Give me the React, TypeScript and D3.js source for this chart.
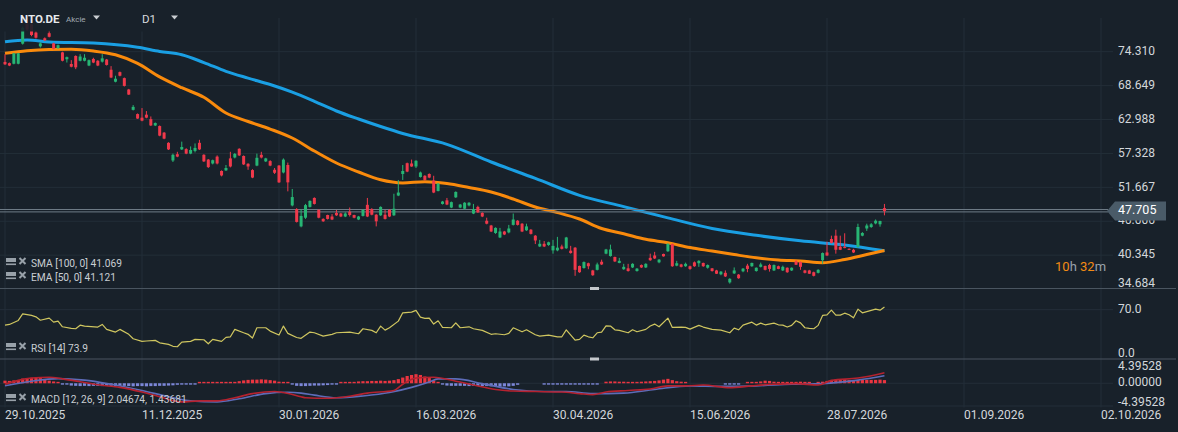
import React from "react";
import * as d3 from "d3";

// ---- data (NTO.DE, D1) ----
const opens = [
  72.6, 72.4, 72.3, 72.3, 75.65, 79.0, 78.9, 77.5, 75.2, 76.55,
  77.4, 75.7, 74.9, 74.2, 73.05, 72.26, 73.6, 72.8, 72.8, 72.0,
  73.1, 72.8, 72.65, 73.0, 71.3, 69.3, 70.9, 69.9, 68.0, 64.6,
  63.9, 63.3, 63.8, 63.05, 62.0, 61.9, 60.8, 59.1, 56.15, 57.2,
  58.0, 58.05, 57.3, 57.75, 59.1, 57.1, 56.3, 55.65, 56.8, 54.4,
  54.5, 56.5, 56.65, 58.1, 56.9, 55.6, 54.55, 55.3, 57.1, 56.0,
  56.05, 54.6, 55.3, 54.15, 55.4, 48.65, 48.05, 45.15, 46.6, 48.4,
  49.9, 47.9, 46.4, 47.05, 46.8, 47.4, 47.3, 46.8, 47.6, 47.05,
  46.3, 46.9, 48.75, 48.05, 47.1, 47.0, 47.1, 47.9, 47.0, 50.3,
  53.9, 55.7, 55.65, 55.15, 53.4, 53.6, 53.9, 52.8, 51.05, 48.9,
  49.5, 48.3, 50.0, 48.3, 48.1, 48.65, 47.3, 48.4, 47.4, 46.1,
  45.3, 44.05, 43.3, 44.3, 44.15, 45.4, 46.1, 45.6, 44.5, 44.6,
  43.6, 41.8, 42.25, 42.05, 41.15, 41.15, 41.8, 41.5, 41.1, 41.6,
  38.55, 38.2, 39.0, 37.8, 37.9, 39.25, 40.6, 40.2, 40.05, 39.05,
  38.0, 38.15, 38.3, 37.7, 38.7, 38.3, 39.9, 40.3, 39.15, 40.55,
  41.0, 42.2, 38.6, 38.8, 38.5, 38.5, 39.15, 39.0, 39.05, 38.25,
  38.15, 37.8, 37.15, 37.4, 35.8, 37.3, 37.1, 37.65, 38.6, 38.5,
  37.7, 38.4, 38.55, 38.7, 37.8, 38.5, 37.8, 38.25, 37.8, 39.3,
  39.2, 37.8, 37.8, 37.5, 37.4, 39.5, 40.8, 43.05, 43.6, 41.75,
  41.7, 41.4, 41.25, 41.7, 43.6, 44.8, 45.05, 45.65, 45.5, 48.2,
];
const highs = [
  73.9, 72.5, 74.1, 74.1, 78.5, 79.5, 79.1, 77.7, 75.9, 76.7,
  77.9, 75.8, 75.5, 74.3, 73.5, 72.9, 73.7, 73.9, 73.9, 73.0,
  73.3, 72.9, 73.9, 73.1, 71.9, 70.3, 71.0, 70.0, 68.1, 65.4,
  64.0, 64.9, 64.4, 63.5, 62.5, 62.0, 60.9, 59.2, 57.3, 57.6,
  59.3, 58.2, 58.5, 59.0, 59.6, 57.2, 56.4, 56.3, 57.0, 54.5,
  55.4, 57.6, 57.4, 58.2, 57.0, 55.7, 54.7, 57.3, 57.6, 56.6,
  56.2, 54.9, 55.4, 56.5, 55.8, 51.4, 48.2, 48.0, 48.9, 49.5,
  50.0, 48.0, 46.5, 47.1, 47.2, 47.9, 47.4, 47.5, 48.3, 47.1,
  46.9, 48.0, 49.9, 48.2, 47.2, 48.5, 47.9, 48.0, 50.6, 52.9,
  55.4, 55.8, 56.3, 56.2, 54.3, 53.7, 54.0, 53.6, 52.4, 49.4,
  49.9, 49.3, 51.0, 48.9, 49.2, 49.2, 48.9, 48.6, 47.5, 46.6,
  45.4, 45.0, 44.9, 44.4, 45.4, 47.3, 46.2, 45.7, 45.6, 44.7,
  43.7, 42.9, 42.7, 42.6, 42.9, 43.4, 42.1, 43.4, 41.9, 41.7,
  38.6, 39.3, 39.1, 37.9, 39.1, 39.6, 41.4, 42.1, 40.1, 39.9,
  38.9, 38.9, 39.0, 38.2, 38.8, 39.0, 40.6, 40.9, 39.7, 40.6,
  42.3, 42.3, 39.4, 38.9, 39.1, 38.6, 39.3, 39.5, 39.1, 38.8,
  38.2, 37.9, 37.7, 37.8, 36.5, 38.3, 37.2, 38.2, 38.9, 39.1,
  38.3, 39.1, 38.6, 38.9, 38.8, 38.6, 38.6, 38.3, 38.3, 39.5,
  39.3, 37.9, 37.9, 37.6, 38.0, 40.8, 42.6, 43.6, 44.6, 43.6,
  44.0, 41.5, 41.4, 45.6, 44.2, 45.6, 45.7, 46.3, 46.1, 48.9,
];
const lows = [
  72.1, 71.9, 72.2, 72.2, 75.5, 77.8, 76.9, 76.5, 75.0, 76.1,
  76.7, 74.7, 74.8, 72.7, 72.5, 71.7, 71.4, 72.7, 72.7, 71.9,
  72.4, 71.9, 72.5, 72.0, 69.9, 69.2, 70.2, 68.5, 67.1, 64.5,
  63.1, 62.7, 63.2, 61.9, 61.9, 60.2, 59.7, 57.9, 55.9, 56.7,
  57.9, 57.2, 57.2, 57.5, 57.9, 55.9, 54.9, 55.5, 55.5, 53.5,
  54.4, 55.0, 56.5, 56.9, 55.4, 54.6, 53.2, 55.2, 56.5, 55.9,
  55.2, 53.9, 52.4, 54.0, 51.0, 48.5, 45.8, 45.0, 46.4, 48.3,
  48.8, 46.5, 45.9, 46.3, 46.2, 46.9, 46.7, 46.7, 46.8, 46.5,
  46.2, 46.8, 46.7, 47.0, 45.15, 46.9, 46.3, 46.7, 46.9, 50.2,
  52.9, 54.2, 55.1, 54.9, 53.3, 52.8, 53.2, 50.7, 51.0, 48.8,
  48.7, 48.2, 49.9, 48.2, 48.0, 48.5, 47.2, 47.4, 46.7, 45.5,
  44.2, 43.9, 43.2, 43.7, 44.0, 45.3, 45.3, 44.2, 44.4, 43.8,
  42.2, 41.7, 41.7, 41.9, 40.6, 41.0, 41.3, 41.4, 40.6, 36.9,
  37.4, 38.1, 38.0, 36.9, 37.8, 38.7, 40.5, 40.1, 39.2, 39.0,
  37.9, 37.6, 38.2, 37.6, 38.2, 38.2, 39.4, 39.7, 39.0, 40.1,
  40.9, 38.4, 38.5, 38.3, 38.4, 37.9, 38.4, 38.4, 38.4, 38.1,
  37.6, 37.2, 37.0, 36.7, 35.6, 37.2, 36.4, 37.5, 37.5, 38.4,
  37.6, 38.3, 37.8, 37.6, 37.7, 38.0, 37.7, 37.4, 37.7, 38.7,
  37.9, 37.3, 37.2, 36.8, 37.3, 38.9, 40.2, 42.3, 40.6, 41.2,
  41.5, 41.2, 40.7, 41.6, 43.5, 44.4, 44.9, 45.5, 45.1, 47.0,
];
const closes = [
  72.2, 72.0, 74.05, 74.05, 78.3, 78.0, 77.1, 76.65, 75.7, 76.2,
  76.8, 74.8, 75.4, 72.8, 73.4, 71.8, 71.7, 73.5, 73.3, 72.9,
  72.5, 72.0, 73.2, 72.1, 70.0, 69.8, 70.3, 68.6, 67.15, 65.1,
  63.15, 62.8, 63.3, 62.0, 62.4, 60.3, 59.8, 58.0, 57.1, 56.8,
  58.4, 57.3, 57.9, 58.25, 58.0, 56.0, 55.05, 56.2, 55.65, 53.65,
  54.9, 55.15, 57.25, 57.0, 55.5, 55.15, 53.3, 56.6, 56.65, 56.5,
  55.3, 54.1, 52.5, 56.3, 52.5, 50.05, 45.9, 46.9, 48.7, 49.4,
  48.9, 46.6, 46.0, 46.4, 46.3, 47.0, 46.8, 47.3, 47.05, 46.6,
  46.8, 47.9, 46.8, 47.1, 46.0, 48.4, 46.4, 46.8, 48.1, 50.8,
  54.4, 54.3, 55.15, 56.1, 54.15, 52.9, 53.3, 50.8, 52.3, 49.3,
  48.8, 49.2, 50.9, 48.8, 49.1, 49.1, 48.05, 47.5, 46.8, 45.6,
  44.3, 44.9, 44.3, 43.8, 44.8, 46.3, 45.4, 44.3, 45.15, 43.9,
  42.8, 42.25, 41.8, 42.5, 41.9, 41.6, 41.4, 43.3, 40.7, 37.9,
  37.5, 39.2, 38.5, 37.0, 38.8, 38.8, 41.3, 41.3, 39.3, 39.4,
  38.4, 37.7, 38.9, 38.1, 38.3, 38.9, 39.5, 39.8, 39.6, 40.15,
  42.25, 38.5, 39.0, 38.4, 38.9, 38.05, 38.5, 39.4, 38.5, 38.7,
  37.7, 37.25, 37.6, 36.8, 36.4, 37.8, 36.5, 38.1, 38.05, 39.05,
  38.25, 38.8, 37.9, 38.05, 38.7, 38.05, 38.4, 37.5, 38.25, 38.75,
  38.4, 37.4, 37.25, 36.9, 37.9, 40.7, 40.3, 42.4, 41.25, 41.25,
  41.6, 41.3, 40.8, 45.05, 44.05, 45.3, 45.5, 46.1, 46.05, 47.705,
];

const smaIdx = [0, 5, 10, 20, 30, 35, 40, 45, 50, 55, 60, 65, 70, 75, 80, 85, 90, 100, 110, 120, 130, 140, 150, 160, 170, 180, 190, 199];
const smaVal = [75.98, 76.26, 75.93, 75.75, 75.04, 74.35, 73.8, 72.5, 71.04, 69.9, 68.83, 67.55, 66.03, 64.41, 63.07, 61.82, 60.66, 58.85, 55.9, 53.17, 50.34, 48.45, 46.58, 44.81, 43.66, 42.74, 42.04, 41.069];

const emaIdx = [0, 5, 10, 15, 20, 25, 30, 35, 40, 45, 50, 55, 60, 65, 70, 75, 80, 85, 90, 95, 100, 105, 110, 115, 120, 125, 130, 135, 140, 145, 150, 155, 160, 165, 170, 175, 180, 185, 190, 195, 199];
const emaVal = [74.04, 74.48, 74.68, 74.71, 74.43, 73.79, 72.35, 70.1, 68.3, 66.7, 64.08, 62.66, 61.4, 59.9, 57.73, 55.73, 54.23, 52.93, 52.41, 52.61, 52.31, 51.64, 50.89, 49.72, 48.38, 47.47, 46.38, 44.8, 43.93, 42.99, 42.42, 41.62, 41.04, 40.45, 39.9, 39.53, 39.37, 39.09, 39.62, 40.45, 41.121];

const rsiIdx = [0, 1, 3, 4, 6, 7, 8, 10, 11, 12, 13, 15, 16, 17, 18, 21, 22, 23, 25, 26, 28, 29, 31, 32, 34, 35, 37, 38, 39, 40, 42, 43, 45, 46, 47, 49, 50, 51, 52, 54, 55, 56, 57, 59, 60, 62, 63, 64, 66, 67, 69, 70, 72, 74, 75, 78, 80, 81, 83, 84, 85, 86, 87, 89, 90, 92, 93, 94, 95, 96, 97, 98, 99, 101, 102, 103, 105, 106, 108, 110, 111, 113, 114, 115, 117, 118, 120, 121, 123, 125, 126, 127, 129, 130, 131, 132, 133, 134, 135, 136, 137, 138, 139, 141, 142, 143, 145, 146, 147, 148, 150, 151, 153, 154, 155, 157, 158, 160, 162, 164, 165, 166, 167, 169, 170, 171, 172, 174, 175, 176, 177, 178, 179, 180, 181, 182, 183, 184, 185, 186, 187, 188, 189, 190, 191, 192, 193, 194, 196, 197, 198, 199];
const rsiVal = [48, 49, 54.7, 64, 61.8, 59.8, 55, 58, 52.3, 53.7, 45.7, 43.4, 42.9, 48, 46.7, 45.3, 49, 42, 38.2, 42, 35, 28.7, 25, 25.5, 26.4, 23, 20.8, 18, 17.4, 24, 25, 27.8, 27.3, 21.6, 27.8, 25, 30.7, 31.5, 42, 37.2, 35, 29.7, 44.3, 44.3, 39.6, 34, 46.7, 36.4, 30.5, 29.3, 38.2, 37.2, 32.5, 35, 37.2, 38.2, 35.8, 42.9, 40.6, 37.2, 46.7, 41, 44.3, 53.7, 65.5, 66.5, 68.9, 59.4, 57.6, 58, 49.5, 54.2, 44.8, 44.3, 51.3, 44.3, 45.7, 42.9, 40.6, 35, 35.8, 34.4, 36.4, 44.3, 38.6, 41.4, 34.4, 32.5, 33.9, 31.5, 31.5, 41.4, 26.9, 27.8, 33.9, 31.5, 30.1, 37.2, 38.2, 47.1, 46.7, 41.4, 40.6, 37.2, 41.4, 38.6, 42, 46.7, 49.5, 45.7, 58, 44.8, 45.3, 44.8, 42.4, 47.7, 45.3, 42, 41, 37.2, 43.8, 41.4, 48.1, 52.3, 48.1, 50.9, 48.5, 50.9, 48.5, 48.1, 45.3, 47.7, 54.2, 51.3, 44.3, 43.4, 42.9, 47.7, 61.8, 62.7, 69.3, 62.2, 62.2, 65, 62.7, 58.4, 70.7, 65.5, 68.9, 70.7, 69.3, 73.9];

const macdIdx = [0, 3, 6, 10, 13, 17, 21, 26, 31, 35, 40, 44, 48, 52, 56, 61, 63, 67, 68, 73, 78, 82, 88, 90, 93, 97, 102, 106, 111, 115, 120, 126, 130, 133, 136, 141, 146, 150, 154, 158, 164, 169, 174, 179, 184, 187, 193, 199];
const macdVal = [-0.2, 0.55, 1.0, 1.15, 0.85, 0.3, -0.3, -0.8, -1.7, -2.6, -3.6, -3.4, -3.4, -2.8, -2.0, -1.6, -1.8, -2.6, -2.8, -2.9, -2.5, -1.9, -1.4, -0.2, 1.0, 1.15, 0.4, -0.35, -1.2, -1.5, -1.6, -1.7, -2.0, -2.2, -1.7, -1.4, -1.1, -0.5, -0.5, -0.35, -0.85, -0.5, -0.2, -0.07, -0.35, 0.55, 1.0, 2.04674];

const signalIdx = [0, 6, 12, 18, 24, 31, 37, 42, 48, 53, 59, 64, 67, 70, 75, 81, 87, 92, 96, 98, 102, 108, 115, 122, 127, 133, 140, 147, 155, 162, 170, 178, 185, 193, 199];
const signalVal = [-0.5, 0.4, 0.9, 0.6, -0.2, -1.4, -2.6, -3.4, -3.6, -3.0, -2.0, -1.75, -1.9, -2.3, -2.8, -2.45, -1.8, -0.8, 0.25, 0.85, 0.85, -0.07, -1.2, -1.6, -1.6, -2.0, -1.9, -1.2, -0.5, -0.6, -0.5, -0.2, -0.07, 0.6, 1.43681];

const histogram = [
  0.5, 0.45, 0.55, 0.6, 0.9, 1.0, 1.05, 1.05, 1.0, 0.8,
  0.5, 0.35, 0.15, -0.1, -0.2, -0.45, -0.5, -0.55, -0.5, -0.55,
  -0.5, -0.5, -0.55, -0.5, -0.5, -0.55, -0.5, -0.5, -0.55, -0.6,
  -0.55, -0.55, -0.6, -0.55, -0.55, -0.5, -0.5, -0.45, -0.4, -0.3,
  -0.2, -0.1, -0.08, -0.05, 0.15, 0.15, 0.15, 0.15, 0.15, 0.15,
  0.15, 0.15, 0.15, 0.4, 0.55, 0.65, 0.7, 0.7, 0.75, 0.7,
  0.6, 0.5, 0.3, 0.2, 0.15, -0.1, -0.5, -0.55, -0.55, -0.5,
  -0.45, -0.45, -0.4, -0.35, -0.2, -0.15, 0.1, 0.12, 0.15, 0.2,
  0.35, 0.4, 0.4, 0.45, 0.45, 0.5, 0.45, 0.5, 0.6, 0.8,
  1.1, 1.4, 1.6, 1.75, 1.6, 1.3, 1.0, 0.5, 0.2, -0.05,
  -0.45, -0.5, -0.5, -0.5, -0.5, -0.55, -0.5, -0.5, -0.55, -0.55,
  -0.6, -0.6, -0.65, -0.6, -0.6, -0.5, -0.3, 0, 0, 0,
  0, 0, -0.1, -0.1, -0.1, -0.1, -0.1, -0.1, -0.1, -0.1,
  -0.1, -0.1, -0.1, -0.1, -0.1, 0, 0.3, 0.35, 0.35, 0.3,
  0.3, 0.25, 0.25, 0.25, 0.3, 0.35, 0.4, 0.45, 0.55, 0.7,
  0.85, 0.6, 0.4, 0.3, 0.2, 0, 0, 0, 0, 0,
  0, 0, 0, -0.1, -0.1, -0.1, -0.1, 0, 0.15, 0.2,
  0.25, 0.35, 0.5, 0.45, 0.3, 0.25, 0.25, 0.2, 0.15, 0.25,
  0.3, 0.05, 0.05, 0, 0.1, 0.3, 0.45, 0.6, 0.7, 0.7,
  0.65, 0.65, 0.6, 0.6, 0.65, 0.65, 0.65, 0.65, 0.7, 0.61,
];

const priceTicks = [74.31, 68.649, 62.988, 57.328, 51.667, 46.006, 40.345, 34.684];
const rsiTicks = [70, 0];
const macdTicks = [4.39528, 0, -4.39528];
const dateLabels = ["29.10.2025", "11.12.2025", "30.01.2026", "16.03.2026", "30.04.2026", "15.06.2026", "28.07.2026", "01.09.2026", "02.10.2026"];
const barsPerLabel = 31;
const lastPrice = 47.705;

const W = 1178;
const H = 432;
const BG = "#18212a";
const GRID = "#232e38";
const SEP = "#4a5560";
const UP = "#27b574";
const DOWN = "#f0394b";
const AXIS_TEXT = "#d3d7db";
const FONT = "Roboto, 'Noto Sans', sans-serif";

const mainTop = 18;
const mainBottom = 288.5;
const rsiBottom = 359;
const macdBottom = 407.5;

const x = d3.scaleLinear().domain([0, barsPerLabel]).range([5, 142]);
const yPrice = d3.scaleLinear().domain([34.684, 74.31]).range([289.1, 51.7]);
const yRsi = d3.scaleLinear().domain([0, 100]).range([rsiBottom, mainBottom]);
const yMacd = d3.scaleLinear().domain([-4.39528, 4.39528]).range([406, 360.5]);

function LegendIcon({ y }: { y: number }) {
  return (
    <g fill="#98a1a9" stroke="#98a1a9">
      <rect x={6} y={y - 7} width={10} height={4} stroke="none" />
      <rect x={6} y={y - 1.5} width={10} height={1.6} stroke="none" />
      <path d={`M19.5,${y - 7} L25.5,${y - 1} M25.5,${y - 7} L19.5,${y - 1}`} strokeWidth={2} fill="none" />
    </g>
  );
}

export default function App() {
  const bodyW = 3;

  const maLine = (idx: number[]) =>
    d3
      .line<number>()
      .x((_, k) => x(idx[k]))
      .y((v) => yPrice(v))
      .curve(d3.curveMonotoneX);

  const rsiPath = d3
    .line<number>()
    .x((_, k) => x(rsiIdx[k]))
    .y((v) => yRsi(v))(rsiVal);

  const macdLine = (idx: number[]) =>
    d3
      .line<number>()
      .x((_, k) => x(idx[k]))
      .y((v) => yMacd(v))
      .curve(d3.curveMonotoneX);

  const yPriceLabel = (v: number) => Math.min(yPrice(v), mainBottom - 5);
  const yRsiLabel = (v: number) => Math.min(yRsi(v), rsiBottom - 5);
  const yMacdLabel = (v: number) => Math.max(Math.min(yMacd(v), macdBottom - 5), rsiBottom + 7.5);

  const pY = yPrice(lastPrice);

  return (
    <svg
      width={W}
      height={H}
      style={{ position: "absolute", left: 0, top: 0, display: "block" }}
      fontFamily={FONT}
    >
      <rect width={W} height={H} fill={BG} />

      {/* vertical grid */}
      {dateLabels.map((_, k) => (
        <line key={"vg" + k} x1={x(k * barsPerLabel)} x2={x(k * barsPerLabel)} y1={mainTop} y2={macdBottom} stroke={GRID} />
      ))}
      {/* horizontal grid */}
      {priceTicks.slice(0, -1).map((t) => (
        <line key={"pg" + t} x1={0} x2={1113} y1={yPrice(t)} y2={yPrice(t)} stroke={GRID} />
      ))}
      <line x1={0} x2={1113} y1={yRsi(70)} y2={yRsi(70)} stroke={GRID} />
      <line x1={0} x2={1113} y1={yMacd(0)} y2={yMacd(0)} stroke={GRID} />
      <line x1={0} x2={1113} y1={yMacd(-4.39528)} y2={yMacd(-4.39528)} stroke={GRID} />

      {/* moving averages */}
      <path d={maLine(smaIdx)(smaVal) || ""} fill="none" stroke="#1a9fe3" strokeWidth={3} strokeLinejoin="round" />
      <path d={maLine(emaIdx)(emaVal) || ""} fill="none" stroke="#f98a0c" strokeWidth={3} strokeLinejoin="round" />

      {/* current price lines */}
      <line x1={0} x2={1108} y1={pY - 1.6} y2={pY - 1.6} stroke="#6f7c87" strokeWidth={1} />
      <line x1={0} x2={1108} y1={pY + 0.8} y2={pY + 0.8} stroke="#6f7c87" strokeWidth={1} />

      {/* candles */}
      {closes.map((c, i) => {
        const o = opens[i];
        const up = c >= o;
        const col = up ? UP : DOWN;
        const cx = x(i);
        const top = yPrice(Math.max(o, c));
        const bot = yPrice(Math.min(o, c));
        return (
          <g key={"c" + i}>
            <line x1={cx} x2={cx} y1={yPrice(highs[i])} y2={yPrice(lows[i])} stroke={col} strokeWidth={1} />
            <rect x={cx - bodyW / 2} y={top} width={bodyW} height={Math.max(1, bot - top)} fill={col} />
          </g>
        );
      })}

      {/* RSI */}
      <path d={rsiPath || ""} fill="none" stroke="#cfc660" strokeWidth={1.2} strokeLinejoin="round" />

      {/* MACD histogram */}
      {histogram.map((v, i) => {
        if (v === 0) return null;
        const y0 = yMacd(0);
        const y1 = yMacd(v);
        const h = Math.max(1.4, Math.abs(y1 - y0));
        return (
          <rect
            key={"h" + i}
            x={x(i) - 1.6}
            y={v > 0 ? y0 - h : y0}
            width={3.2}
            height={h}
            fill={v > 0 ? "#ea3540" : "#7c87d8"}
          />
        );
      })}
      <path d={macdLine(signalIdx)(signalVal) || ""} fill="none" stroke="#5d6cb8" strokeWidth={1.6} />
      <path d={macdLine(macdIdx)(macdVal) || ""} fill="none" stroke="#b5222f" strokeWidth={1.6} />

      {/* panel separators */}
      <line x1={0} x2={1176} y1={mainBottom} y2={mainBottom} stroke={SEP} strokeWidth={1.2} />
      <line x1={0} x2={1176} y1={rsiBottom} y2={rsiBottom} stroke={SEP} strokeWidth={1.2} />
      <rect x={590} y={mainBottom - 1.5} width={9} height={3} fill="#c4c8cc" />
      <rect x={590} y={rsiBottom - 1.5} width={9} height={3} fill="#c4c8cc" />

      {/* right axis */}
      <g fontSize={12} fill={AXIS_TEXT} dominantBaseline="middle">
        {priceTicks.map((t) => (
          <text key={"pt" + t} x={1118} y={yPriceLabel(t)}>
            {t.toFixed(3)}
          </text>
        ))}
        {rsiTicks.map((t) => (
          <text key={"rt" + t} x={1118} y={yRsiLabel(t)}>
            {t.toFixed(1)}
          </text>
        ))}
        {macdTicks.map((t) => (
          <text key={"mt" + t} x={1118} y={yMacdLabel(t)}>
            {t.toFixed(5)}
          </text>
        ))}
      </g>

      {/* last price tag */}
      <path
        d={`M1107,${pY} L1115,${pY - 9.5} L1166,${pY - 9.5} L1166,${pY + 9.5} L1115,${pY + 9.5} Z`}
        fill="#4a5b68"
      />
      <text x={1118} y={pY} fontSize={12.5} fill="#ffffff" dominantBaseline="middle">
        {lastPrice.toFixed(3)}
      </text>

      {/* bar countdown */}
      <text x={1055} y={268} fontSize={13} dominantBaseline="middle" fill="#9aa2aa">
        <tspan fill="#f28b14">10</tspan>
        <tspan>h </tspan>
        <tspan fill="#f28b14">32</tspan>
        <tspan>m</tspan>
      </text>

      {/* header */}
      <rect x={0} y={0} width={205} height={31.5} fill={BG} opacity={0.9} />
      <text x={20} y={23} fontSize={11.5} fontWeight={700} fill="#e6e9ec">
        NTO.DE
      </text>
      <text x={66} y={22} fontSize={8} fill="#a3abb3">
        Akcie
      </text>
      <path d="M93,15.5 L100,15.5 L96.5,19.5 Z" fill="#c9cdd1" />
      <text x={142} y={23} fontSize={11.5} fill="#d8dbde">
        D1
      </text>
      <path d="M171,15.5 L178,15.5 L174.5,19.5 Z" fill="#c9cdd1" />

      {/* indicator legends */}
      <g fontSize={10.2} fill="#c9ced3">
        <LegendIcon y={265} />
        <text x={31} y={267}>SMA [100, 0] 41.069</text>
        <LegendIcon y={279} />
        <text x={31} y={281}>EMA [50, 0] 41.121</text>
        <LegendIcon y={350} />
        <text x={31} y={352}>RSI [14] 73.9</text>
        <LegendIcon y={401} />
        <text x={31} y={403}>MACD [12, 26, 9] 2.04674, 1.43681</text>
      </g>

      {/* date axis */}
      <g fontSize={12} fill={AXIS_TEXT}>
        {dateLabels.map((d, k) => (
          <text key={"d" + k} x={x(k * barsPerLabel)} y={418.5}>
            {d}
          </text>
        ))}
      </g>
    </svg>
  );
}
